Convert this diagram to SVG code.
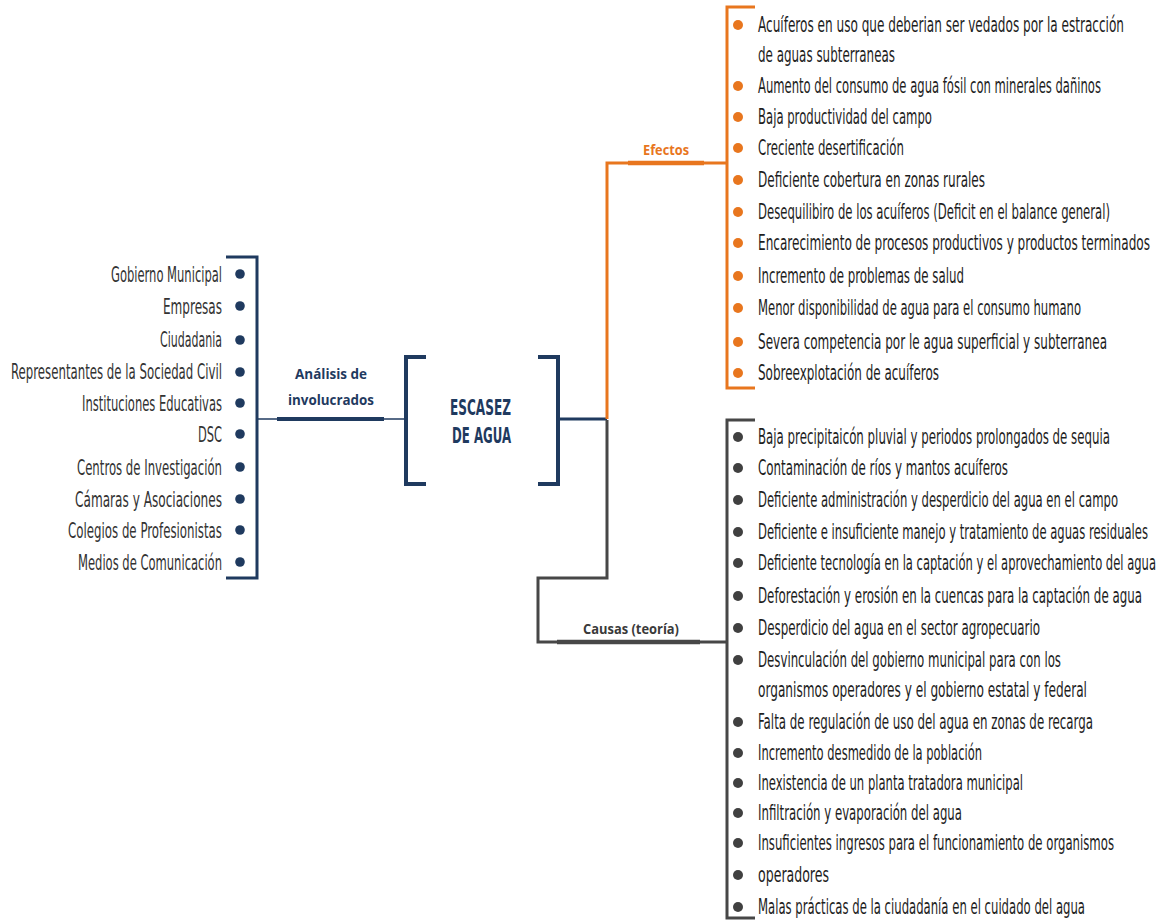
<svg xmlns="http://www.w3.org/2000/svg" width="1159" height="920" viewBox="0 0 1159 920">
<style>
.it{font-family:"Liberation Sans Narrow","DejaVu Sans Condensed","Roboto Condensed","Liberation Sans",sans-serif;font-size:21px;fill:#1e1e1e}
.lt{fill:#333333}
.lab{font-family:"Open Sans","Liberation Sans",sans-serif;font-weight:bold;font-size:13.5px}
.nv{stroke:#1f3a5f;fill:none}
.or{stroke:#e8761e;fill:none}
.gr{stroke:#474747;fill:none}
.bn{fill:#1f3a5f}
.bo{fill:#e8761e}
.bg{fill:#404040}
</style>
<rect width="1159" height="920" fill="#ffffff"/>
<g id="connectors">
<line class="nv" x1="258" y1="419" x2="404" y2="419" stroke-width="1.5"/>
<line class="nv" x1="277" y1="419" x2="384" y2="419" stroke-width="4"/>
<line class="nv" x1="558" y1="419" x2="607" y2="419" stroke-width="3"/>
<polyline class="or" points="607,419 607,163 727,163" stroke-width="3"/>
<line class="or" x1="628" y1="163" x2="704" y2="163" stroke-width="4.5"/>
<polyline class="gr" points="607,420 607,578 538,578 538,642 727,642" stroke-width="3"/>
<line class="gr" x1="557" y1="642" x2="700" y2="642" stroke-width="4.5"/>
</g>
<g id="center">
<path class="nv" d="M426,357 H406 V484 H426" stroke-width="4"/>
<path class="nv" d="M538,357 H558 V484 H538" stroke-width="4"/>
<text x="450" y="415" textLength="61" lengthAdjust="spacingAndGlyphs" font-family="'DejaVu Sans Condensed','Liberation Sans Narrow','Liberation Sans',sans-serif" font-weight="bold" font-size="22" fill="#1f3a5f">ESCASEZ</text>
<text x="452" y="443" textLength="59" lengthAdjust="spacingAndGlyphs" font-family="'DejaVu Sans Condensed','Liberation Sans Narrow','Liberation Sans',sans-serif" font-weight="bold" font-size="22" fill="#1f3a5f">DE AGUA</text>
</g>
<g id="involucrados-label">
<text class="lab" x="295" y="379" textLength="72" lengthAdjust="spacingAndGlyphs" fill="#1f3a5f">Análisis de</text>
<text class="lab" x="288" y="405" textLength="86" lengthAdjust="spacingAndGlyphs" fill="#1f3a5f">involucrados</text>
</g>
<g id="involucrados">
<path class="nv" d="M226,257 H257 V578 H226" stroke-width="3"/>
<g class="bn">
<circle cx="240" cy="274" r="4.8"/><circle cx="240" cy="306" r="4.8"/><circle cx="240" cy="340" r="4.8"/><circle cx="240" cy="372" r="4.8"/><circle cx="240" cy="403" r="4.8"/><circle cx="240" cy="434" r="4.8"/><circle cx="240" cy="467" r="4.8"/><circle cx="240" cy="499" r="4.8"/><circle cx="240" cy="530" r="4.8"/><circle cx="240" cy="562" r="4.8"/>
</g>
<g class="it lt">
<text x="111" y="282" textLength="111" lengthAdjust="spacingAndGlyphs">Gobierno Municipal</text>
<text x="163" y="314" textLength="59" lengthAdjust="spacingAndGlyphs">Empresas</text>
<text x="160" y="347" textLength="62" lengthAdjust="spacingAndGlyphs">Ciudadania</text>
<text x="11" y="379" textLength="211" lengthAdjust="spacingAndGlyphs">Representantes de la Sociedad Civil</text>
<text x="82" y="411" textLength="140" lengthAdjust="spacingAndGlyphs">Instituciones Educativas</text>
<text x="198" y="442" textLength="24" lengthAdjust="spacingAndGlyphs">DSC</text>
<text x="77" y="475" textLength="145" lengthAdjust="spacingAndGlyphs">Centros de Investigación</text>
<text x="75" y="507" textLength="147" lengthAdjust="spacingAndGlyphs">Cámaras y Asociaciones</text>
<text x="68" y="538" textLength="154" lengthAdjust="spacingAndGlyphs">Colegios de Profesionistas</text>
<text x="78" y="570" textLength="144" lengthAdjust="spacingAndGlyphs">Medios de Comunicación</text>
</g>
</g>
<g id="efectos-label">
<text class="lab" x="643" y="155" textLength="46" lengthAdjust="spacingAndGlyphs" font-size="13" fill="#e8761e">Efectos</text>
</g>
<g id="efectos">
<path class="or" d="M755,7 H727 V388 H755" stroke-width="3"/>
<g class="bo">
<circle cx="738" cy="25" r="5"/><circle cx="738" cy="86" r="5"/><circle cx="738" cy="117" r="5"/><circle cx="738" cy="148" r="5"/><circle cx="738" cy="180" r="5"/><circle cx="738" cy="212" r="5"/><circle cx="738" cy="243" r="5"/><circle cx="738" cy="276" r="5"/><circle cx="738" cy="308" r="5"/><circle cx="738" cy="342" r="5"/><circle cx="738" cy="373" r="5"/>
</g>
<g class="it">
<text x="758" y="32" textLength="366" lengthAdjust="spacingAndGlyphs">Acuíferos en uso que deberian ser vedados por la estracción</text>
<text x="758" y="62" textLength="137" lengthAdjust="spacingAndGlyphs">de aguas subterraneas</text>
<text x="758" y="93" textLength="343" lengthAdjust="spacingAndGlyphs">Aumento del consumo de agua fósil con minerales dañinos</text>
<text x="758" y="124" textLength="174" lengthAdjust="spacingAndGlyphs">Baja productividad del campo</text>
<text x="758" y="155" textLength="146" lengthAdjust="spacingAndGlyphs">Creciente desertificación</text>
<text x="758" y="187" textLength="227" lengthAdjust="spacingAndGlyphs">Deficiente cobertura en zonas rurales</text>
<text x="758" y="219" textLength="352" lengthAdjust="spacingAndGlyphs">Desequilibiro de los acuíferos (Deficit en el balance general)</text>
<text x="758" y="250" textLength="392" lengthAdjust="spacingAndGlyphs">Encarecimiento de procesos productivos y productos terminados</text>
<text x="758" y="283" textLength="206" lengthAdjust="spacingAndGlyphs">Incremento de problemas de salud</text>
<text x="758" y="315" textLength="323" lengthAdjust="spacingAndGlyphs">Menor disponibilidad de agua para el consumo humano</text>
<text x="758" y="349" textLength="349" lengthAdjust="spacingAndGlyphs">Severa competencia por le agua superficial y subterranea</text>
<text x="758" y="380" textLength="181" lengthAdjust="spacingAndGlyphs">Sobreexplotación de acuíferos</text>
</g>
</g>
<g id="causas-label">
<text class="lab" x="583" y="634" textLength="96" lengthAdjust="spacingAndGlyphs" font-size="13" fill="#3a3a3a">Causas (teoría)</text>
</g>
<g id="causas">
<path class="gr" d="M755,420 H727 V918 H755" stroke-width="3"/>
<g class="bg">
<circle cx="738" cy="437" r="5"/><circle cx="738" cy="468" r="5"/><circle cx="738" cy="500" r="5"/><circle cx="738" cy="532" r="5"/><circle cx="738" cy="563" r="5"/><circle cx="738" cy="596" r="5"/><circle cx="738" cy="628" r="5"/><circle cx="738" cy="660" r="5"/><circle cx="738" cy="722" r="5"/><circle cx="738" cy="753" r="5"/><circle cx="738" cy="783" r="5"/><circle cx="738" cy="813" r="5"/><circle cx="738" cy="843" r="5"/><circle cx="738" cy="875" r="5"/><circle cx="738" cy="907" r="5"/>
</g>
<g class="it">
<text x="758" y="444" textLength="352" lengthAdjust="spacingAndGlyphs">Baja precipitaicón pluvial y periodos prolongados de sequia</text>
<text x="758" y="475" textLength="250" lengthAdjust="spacingAndGlyphs">Contaminación de ríos y mantos acuíferos</text>
<text x="758" y="507" textLength="360" lengthAdjust="spacingAndGlyphs">Deficiente administración y desperdicio del agua en el campo</text>
<text x="758" y="539" textLength="390" lengthAdjust="spacingAndGlyphs">Deficiente e insuficiente manejo y tratamiento de aguas residuales</text>
<text x="758" y="570" textLength="398" lengthAdjust="spacingAndGlyphs">Deficiente tecnología en la captación y el aprovechamiento del agua</text>
<text x="758" y="603" textLength="384" lengthAdjust="spacingAndGlyphs">Deforestación y erosión en la cuencas para la captación de agua</text>
<text x="758" y="635" textLength="282" lengthAdjust="spacingAndGlyphs">Desperdicio del agua en el sector agropecuario</text>
<text x="758" y="667" textLength="303" lengthAdjust="spacingAndGlyphs">Desvinculación del gobierno municipal para con los</text>
<text x="758" y="697" textLength="329" lengthAdjust="spacingAndGlyphs">organismos operadores y el gobierno estatal y federal</text>
<text x="758" y="729" textLength="335" lengthAdjust="spacingAndGlyphs">Falta de regulación de uso del agua en zonas de recarga</text>
<text x="758" y="760" textLength="224" lengthAdjust="spacingAndGlyphs">Incremento desmedido de la población</text>
<text x="758" y="790" textLength="265" lengthAdjust="spacingAndGlyphs">Inexistencia de un planta tratadora municipal</text>
<text x="758" y="820" textLength="204" lengthAdjust="spacingAndGlyphs">Infiltración y evaporación del agua</text>
<text x="758" y="850" textLength="356" lengthAdjust="spacingAndGlyphs">Insuficientes ingresos para el funcionamiento de organismos</text>
<text x="758" y="882" textLength="71" lengthAdjust="spacingAndGlyphs">operadores</text>
<text x="758" y="914" textLength="327" lengthAdjust="spacingAndGlyphs">Malas prácticas de la ciudadanía en el cuidado del agua</text>
</g>
</g>
</svg>
